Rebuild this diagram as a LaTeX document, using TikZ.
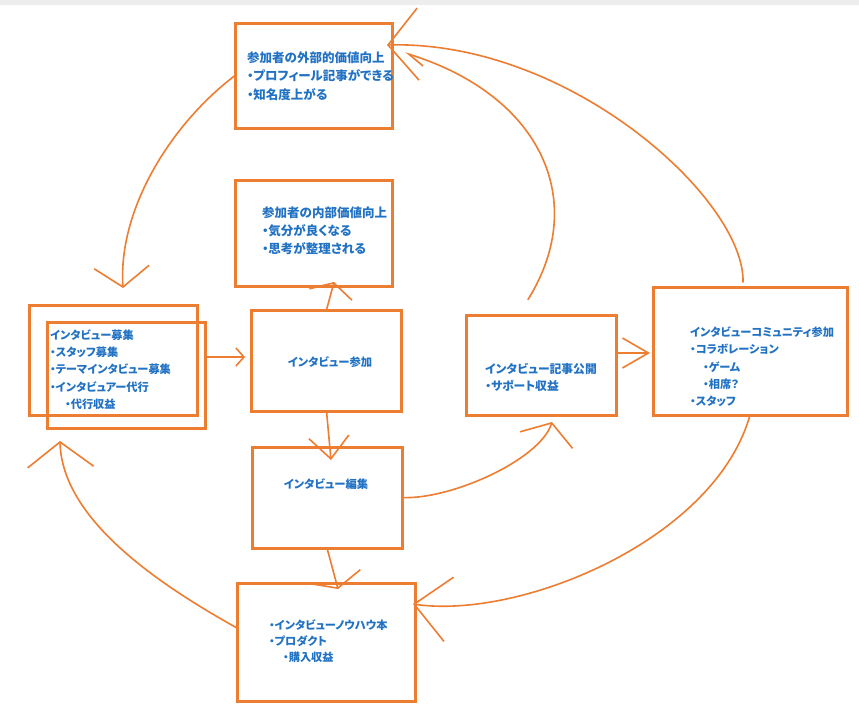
\documentclass[tikz,border=0pt]{standalone}
\usepackage{fontspec}
\newfontfamily\jp[RawFeature=+palt]{Noto Sans CJK JP}
\usetikzlibrary{arrows.meta,calc}
\definecolor{orng}{HTML}{ED7D31}
\definecolor{txtblue}{HTML}{2272C4}
\begin{document}
\begin{tikzpicture}[x=1pt,y=-1pt,
  box/.style={draw=orng, line width=3pt, inner sep=0pt, outer sep=0pt},
  lbl/.style 2 args={text=txtblue, font=\jp\bfseries\fontsize{#1}{#2}\selectfont, align=left, inner sep=0pt, anchor=north west},
  clbl/.style={text=txtblue, font=\jp\bfseries\fontsize{11.3}{17}\selectfont, inner sep=0pt},
  conn/.style={draw=orng, line width=1.6pt, line cap=round, line join=round}]
\useasboundingbox (0,0) rectangle (859,712);
\fill[white] (0,0) rectangle (859,712);
\fill[black!7] (0,0) rectangle (859,5);

% boxes
\node[box, minimum width=157pt, minimum height=105pt] (ext) at (313.5,75.5) {};
\node[box, minimum width=157pt, minimum height=106pt] (int) at (313.5,233) {};
\node[box, minimum width=168pt, minimum height=110pt] (recA) at (113,360) {};
\node[box, minimum width=158pt, minimum height=106pt] (recB) at (126,375) {};
\node[box, minimum width=150pt, minimum height=101pt] (part) at (326.5,360.5) {};
\node[box, minimum width=150pt, minimum height=100pt] (art) at (541,365.5) {};
\node[box, minimum width=194pt, minimum height=128pt] (com) at (750,351) {};
\node[box, minimum width=150pt, minimum height=101pt] (edit) at (327,497.5) {};
\node[box, minimum width=178pt, minimum height=118pt] (book) at (326,642) {};

% texts
\node[lbl={12.5}{18.5}] (text) at (247,51.5) {参加者の外部的価値向上\\・プロフィール記事ができる\\・知名度上がる};
\node[lbl={12.5}{18}] (tint) at (262,207) {参加者の内部価値向上\\・気分が良くなる\\・思考が整理される};
\node[lbl={11.2}{17.25}] (trec) at (50,329.5) {インタビュー募集\\・スタッフ募集\\・テーマインタビュー募集\\・インタビュアー代行\\\hspace*{15pt}・代行収益};
\node[clbl] (tpart) at (330,362) {インタビュー参加};
\node[lbl={11.8}{17}] (tart) at (485,362.5) {インタビュー記事公開\\・サポート収益};
\node[lbl={11.2}{17.3}] (tcom) at (690,326.5) {インタビューコミュニティ参加\\・コラボレーション\\\hspace*{13pt}・ゲーム\\\hspace*{13pt}・相席？\\・スタッフ};
\node[clbl] (tedit) at (326,484) {インタビュー編集};
\node[lbl={11.2}{16}] (tbook) at (269,619.5) {・インタビューノウハウ本\\・プロダクト\\\hspace*{14pt}・購入収益};

% arrow end points
\coordinate (tA) at (123,288);
\coordinate (tB) at (245,357);
\coordinate (tC) at (334,282);
\coordinate (tD) at (331,460);
\coordinate (tE) at (338,589);
\coordinate (tF) at (552,422);
\coordinate (tG) at (650,353);
\coordinate (tH) at (387,45);
\coordinate (tH2) at (405,53);
\coordinate (tI) at (413,604);
\coordinate (tJ) at (60,441);

% connectors
\draw[conn, -{Straight Barb[length=20pt,width=55pt]}] (ext.west) .. controls (170,125) and (118,210) .. (tA);
\draw[conn, -{Straight Barb[length=8pt,width=18pt]}] (recB.east |- tB) -- (tB);
\draw[conn, -{Straight Barb[length=12pt,width=44pt]}] (part.north) -- (tC);
\draw[conn, -{Straight Barb[length=22pt,width=40pt]}] (part.south) -- (tD);
\draw[conn, -{Straight Barb[length=12pt,width=53pt]}] (edit.south) -- (tE);
\draw[conn, -{Straight Barb[length=18pt,width=55pt]}] (edit.east) .. controls (450,500) and (540,460) .. (tF);
\draw[conn, -{Straight Barb[length=26pt,width=30pt]}] (art.east |- tG) -- (tG);
\draw[conn, -{Straight Barb[length=30pt,width=72pt]}] ([xshift=-7pt,yshift=5pt]com.north) .. controls (745,200) and (570,40) .. (tH);
\draw[conn, -{Straight Barb[harpoon,length=17pt,width=14pt]}] ([xshift=-13pt,yshift=16pt]art.north) .. controls (590,200) and (540,95) .. (tH2);
\draw[conn, -{Straight Barb[length=35pt,width=65pt]}] (com.south) .. controls (715,540) and (520,620) .. (tI);
\draw[conn, -{Straight Barb[length=25pt,width=66pt]}] ([yshift=14pt]book.west) .. controls (160,585) and (62,520) .. (tJ);
\end{tikzpicture}
\end{document}
